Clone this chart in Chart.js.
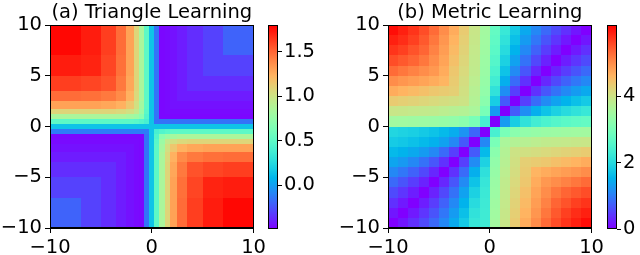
<!DOCTYPE html>
<html><head><meta charset="utf-8">
<script src="https://cdn.jsdelivr.net/npm/chart.js@4.4.1/dist/chart.umd.min.js"></script>
<style>
html,body{margin:0;padding:0;background:#fff;width:640px;height:255px;overflow:hidden;position:relative}
.wrap{position:absolute;top:0}
</style></head><body>
<div class="wrap" style="left:0px"><canvas id="ha" width="269" height="255"></canvas></div>
<div class="wrap" style="left:260px"><canvas id="ca" width="60" height="255"></canvas></div>
<div class="wrap" style="left:320px"><canvas id="hb" width="287" height="255"></canvas></div>
<div class="wrap" style="left:600px"><canvas id="cb" width="40" height="255"></canvas></div>
<script>
// ---------- data ----------
const titleA = '(a) Triangle Learning';
const titleB = '(b) Metric Learning';
const xTicks = [-10, 0, 10];
const yTicks = [-10, -5, 0, 5, 10];
const cbTicksA = [0, 0.5, 1.0, 1.5];
const cbTicksB = [0, 2, 4];
const rangeA = [-0.49, 1.80];
const rangeB = [0, 6.15];

// panel (a): cell edges (x left->right, y top->bottom) and values (rows top->bottom)
const xEdgesA = [-10,-7,-5,-3.5,-2.5,-1.75,-1.25,-0.75,-0.25,0.25,0.75,1.25,1.75,2.5,3.5,5,7,10];
const yEdgesA = [10,7,5,3.5,2.5,1.75,1.25,0.75,0.25,-0.25,-0.75,-1.25,-1.75,-2.5,-3.5,-5,-7,-10];
const valuesA = [
 [1.78,1.72,1.62,1.48,1.30,1.08,0.85,0.50,0.15,-0.15,-0.47,-0.46,-0.44,-0.41,-0.36,-0.30,-0.20],
 [1.72,1.70,1.60,1.47,1.30,1.08,0.85,0.50,0.15,-0.15,-0.47,-0.46,-0.44,-0.41,-0.36,-0.30,-0.30],
 [1.62,1.60,1.56,1.44,1.28,1.08,0.85,0.50,0.15,-0.15,-0.47,-0.46,-0.44,-0.41,-0.36,-0.36,-0.36],
 [1.48,1.47,1.44,1.38,1.24,1.06,0.85,0.50,0.15,-0.15,-0.47,-0.46,-0.44,-0.41,-0.41,-0.41,-0.41],
 [1.30,1.30,1.28,1.24,1.15,1.02,0.82,0.50,0.15,-0.15,-0.47,-0.46,-0.44,-0.44,-0.44,-0.44,-0.44],
 [1.08,1.08,1.08,1.06,1.02,0.95,0.78,0.48,0.15,-0.15,-0.47,-0.46,-0.46,-0.46,-0.46,-0.46,-0.46],
 [0.85,0.85,0.85,0.85,0.82,0.78,0.70,0.45,0.15,-0.15,-0.47,-0.47,-0.47,-0.47,-0.47,-0.47,-0.47],
 [0.50,0.50,0.50,0.50,0.50,0.48,0.45,0.40,0.15,-0.15,-0.15,-0.15,-0.15,-0.15,-0.15,-0.15,-0.15],
 [0.15,0.15,0.15,0.15,0.15,0.15,0.15,0.15,0.15,0.15,0.15,0.15,0.15,0.15,0.15,0.15,0.15],
 [-0.12,-0.12,-0.12,-0.12,-0.12,-0.12,-0.12,-0.12,0.15,0.40,0.45,0.48,0.50,0.50,0.50,0.50,0.50],
 [-0.47,-0.47,-0.47,-0.47,-0.47,-0.47,-0.47,-0.15,0.15,0.45,0.70,0.78,0.82,0.85,0.85,0.85,0.85],
 [-0.46,-0.46,-0.46,-0.46,-0.46,-0.46,-0.47,-0.15,0.15,0.48,0.78,0.95,1.02,1.06,1.08,1.08,1.08],
 [-0.44,-0.44,-0.44,-0.44,-0.44,-0.46,-0.47,-0.15,0.15,0.50,0.82,1.02,1.15,1.24,1.28,1.30,1.30],
 [-0.41,-0.41,-0.41,-0.41,-0.44,-0.46,-0.47,-0.15,0.15,0.50,0.85,1.06,1.24,1.38,1.44,1.47,1.48],
 [-0.36,-0.36,-0.36,-0.41,-0.44,-0.46,-0.47,-0.15,0.15,0.50,0.85,1.08,1.28,1.44,1.56,1.60,1.62],
 [-0.30,-0.30,-0.36,-0.41,-0.44,-0.46,-0.47,-0.15,0.15,0.50,0.85,1.08,1.30,1.47,1.60,1.70,1.72],
 [-0.20,-0.30,-0.36,-0.41,-0.44,-0.46,-0.47,-0.15,0.15,0.50,0.85,1.08,1.30,1.48,1.62,1.72,1.78]
];

// panel (b): unit cells
const xEdgesB = [-10,-9,-8,-7,-6,-5,-4,-3,-2,-1,0,1,2,3,4,5,6,7,8,9,10];
const yEdgesB = [10,9,8,7,6,5,4,3,2,1,0,-1,-2,-3,-4,-5,-6,-7,-8,-9,-10];
const valuesB = [
 [6.05,5.9,5.75,5.55,5.3,5.0,4.7,4.35,3.95,3.5, 2.74,2.23,1.79,1.42,1.10,0.83,0.58,0.37,0.17,0],
 [5.9,5.8,5.65,5.45,5.2,4.92,4.62,4.3,3.93,3.48, 2.69,2.13,1.67,1.28,0.95,0.66,0.41,0.19,0,0.17],
 [5.75,5.65,5.5,5.35,5.1,4.85,4.55,4.25,3.9,3.45, 2.64,2.02,1.52,1.11,0.77,0.47,0.22,0,0.19,0.37],
 [5.55,5.45,5.35,5.2,5.0,4.78,4.48,4.2,3.88,3.42, 2.56,1.88,1.35,0.91,0.56,0.26,0,0.22,0.41,0.58],
 [5.3,5.2,5.1,5.0,4.9,4.7,4.4,4.15,3.85,3.4, 2.46,1.71,1.13,0.67,0.30,0,0.26,0.47,0.66,0.83],
 [5.0,4.92,4.85,4.78,4.7,4.6,4.35,4.1,3.8,3.35, 2.33,1.48,0.85,0.38,0,0.30,0.56,0.77,0.95,1.10],
 [4.7,4.62,4.55,4.48,4.4,4.35,4.3,4.05,3.75,3.3, 2.13,1.16,0.49,0,0.38,0.67,0.91,1.11,1.28,1.42],
 [4.35,4.3,4.25,4.2,4.15,4.1,4.05,4.0,3.7,3.2, 1.83,0.71,0,0.49,0.85,1.13,1.35,1.52,1.67,1.79],
 [3.95,3.93,3.9,3.88,3.85,3.8,3.75,3.7,3.6,3.0, 1.28,0,0.71,1.16,1.48,1.71,1.88,2.02,2.13,2.23],
 [3.5,3.48,3.45,3.42,3.4,3.35,3.3,3.2,3.0,2.4, 0,1.28,1.83,2.13,2.33,2.46,2.56,2.64,2.69,2.74],
 [1.95,1.9,1.85,1.78,1.7,1.6,1.45,1.2,0.8,0, 2.4,3.0,3.2,3.3,3.35,3.4,3.42,3.45,3.48,3.5],
 [1.8,1.75,1.68,1.6,1.5,1.35,1.1,0.7,0,1.1, 3.0,3.6,3.7,3.75,3.8,3.85,3.88,3.9,3.93,3.95],
 [1.6,1.52,1.42,1.28,1.1,0.84,0.49,0,0.71,1.6, 3.2,3.7,4.0,4.05,4.1,4.15,4.2,4.25,4.3,4.35],
 [1.38,1.26,1.1,0.9,0.67,0.38,0,0.49,1.14,1.9, 3.3,3.75,4.05,4.3,4.35,4.4,4.48,4.55,4.62,4.7],
 [1.10,0.95,0.77,0.56,0.30,0,0.38,0.85,1.48,2.1, 3.35,3.8,4.1,4.35,4.6,4.7,4.78,4.85,4.92,5.0],
 [0.83,0.66,0.47,0.26,0,0.30,0.67,1.13,1.71,2.2, 3.4,3.85,4.15,4.4,4.7,4.9,5.0,5.1,5.2,5.3],
 [0.58,0.41,0.22,0,0.26,0.56,0.91,1.35,1.88,2.25, 3.42,3.88,4.2,4.48,4.78,5.0,5.2,5.35,5.45,5.55],
 [0.37,0.19,0,0.22,0.47,0.77,1.11,1.52,2.02,2.28, 3.45,3.9,4.25,4.55,4.85,5.1,5.35,5.5,5.65,5.75],
 [0.17,0,0.19,0.41,0.66,0.95,1.28,1.67,2.13,2.3, 3.48,3.93,4.3,4.62,4.92,5.2,5.45,5.65,5.8,5.9],
 [0,0.17,0.37,0.58,0.83,1.10,1.42,1.79,2.2,2.3, 3.5,3.95,4.35,4.7,5.0,5.3,5.55,5.75,5.9,6.05]
];

// ---------- rendering ----------
Chart.defaults.font.family = 'DejaVu Sans';
Chart.defaults.color = '#000';
const FS = 19.5;

function rainbow(t){
  t = Math.max(0, Math.min(1, t));
  const r = Math.min(1, Math.abs(2*t - 0.5)), g = Math.sin(Math.PI*t), b = Math.cos(Math.PI*t/2);
  return 'rgb(' + Math.round(r*255) + ',' + Math.round(g*255) + ',' + Math.round(b*255) + ')';
}
function fmt(v){ return v < 0 ? '\u2212' + Math.abs(v) : String(v); }

function cells(xe, ye, vals){
  const out = [];
  for (let r = 0; r < vals.length; r++) for (let c = 0; c < vals[r].length; c++) {
    out.push({x:(xe[c]+xe[c+1])/2, y:(ye[r]+ye[r+1])/2, x0:xe[c], x1:xe[c+1], y0:ye[r], y1:ye[r+1], v:vals[r][c]});
  }
  return out;
}

function frame(chart){
  const a = chart.chartArea, ctx = chart.ctx;
  ctx.save(); ctx.strokeStyle = '#000'; ctx.lineWidth = 1;
  ctx.strokeRect(Math.round(a.left) + 0.5, Math.round(a.top) + 0.5, Math.round(a.right - a.left) - 1, Math.round(a.bottom - a.top) - 1);
  ctx.restore();
}

const heatPlugin = {
  id: 'heat',
  beforeDatasetsDraw(chart){
    const o = chart.options.plugins.heat;
    const xs = chart.scales.x, ys = chart.scales.y, ctx = chart.ctx, a = chart.chartArea;
    ctx.save();
    ctx.beginPath(); ctx.rect(a.left, a.top, a.right - a.left, a.bottom - a.top); ctx.clip();
    chart.data.datasets[0].data.forEach(c => {
      const X0 = Math.round(xs.getPixelForValue(c.x0)), X1 = Math.round(xs.getPixelForValue(c.x1));
      const Y0 = Math.round(ys.getPixelForValue(c.y0)), Y1 = Math.round(ys.getPixelForValue(c.y1));
      ctx.fillStyle = rainbow((c.v - o.vmin) / (o.vmax - o.vmin));
      ctx.fillRect(Math.min(X0,X1), Math.min(Y0,Y1), Math.abs(X1-X0), Math.abs(Y1-Y0));
    });
    ctx.restore();
  },
  afterDraw(chart){
    frame(chart);
    const o = chart.options.plugins.heat, a = chart.chartArea, ctx = chart.ctx;
    ctx.save();
    ctx.fillStyle = '#000';
    ctx.font = FS + 'px "DejaVu Sans"';
    ctx.textAlign = 'center'; ctx.textBaseline = 'alphabetic';
    ctx.fillText(o.title, (a.left + a.right) / 2, 18);
    ctx.restore();
  }
};

const cbPlugin = {
  id: 'cbar',
  beforeDatasetsDraw(chart){
    const o = chart.options.plugins.cbar;
    const ys = chart.scales.y, ctx = chart.ctx, a = chart.chartArea;
    ctx.save();
    for (let p = Math.round(a.top); p < Math.round(a.bottom); p++) {
      const v = ys.getValueForPixel(p + 0.5);
      ctx.fillStyle = rainbow((v - o.vmin) / (o.vmax - o.vmin));
      ctx.fillRect(Math.round(a.left), p, Math.round(a.right - a.left), 1);
    }
    ctx.restore();
  },
  afterDraw(chart){ frame(chart); }
};

function axisCommon(ticksArr){
  return {
    type: 'linear', min: -10, max: 10,
    afterBuildTicks: s => { s.ticks = ticksArr.map(v => ({value: v})); },
    grid: {drawOnChartArea: false, tickLength: 5, color: '#000', tickWidth: 1},
    border: {display: true, color: '#000', width: 1},
    ticks: {font: {size: FS}, padding: 3, maxRotation: 0, autoSkip: false, callback: v => fmt(v)}
  };
}

function heatChart(id, title, xe, ye, vals, range, yAxisW){
  const xAx = axisCommon(xTicks); xAx.afterFit = s => { s.height = 27; };
  const yAx = axisCommon(yTicks); yAx.afterFit = s => { s.width = yAxisW; };
  return new Chart(document.getElementById(id), {
    type: 'scatter',
    data: {datasets: [{data: cells(xe, ye, vals), pointRadius: 0, pointHoverRadius: 0}]},
    options: {
      responsive: false, animation: false, events: [],
      layout: {padding: {left: 0, right: 14, top: 25, bottom: 0}},
      plugins: {
        legend: {display: false}, tooltip: {enabled: false}, title: {display: false},
        heat: {vmin: range[0], vmax: range[1], title: title}
      },
      scales: {x: xAx, y: yAx}
    },
    plugins: [heatPlugin]
  });
}

function cbChart(id, range, ticksArr, dec, padLeft, axW){
  return new Chart(document.getElementById(id), {
    type: 'scatter',
    data: {datasets: [{data: [], pointRadius: 0}]},
    options: {
      responsive: false, animation: false, events: [],
      layout: {padding: {left: padLeft, right: 0, top: 25, bottom: 26}},
      plugins: {legend: {display: false}, tooltip: {enabled: false}, cbar: {vmin: range[0], vmax: range[1]}},
      scales: {
        x: {display: false, min: 0, max: 1},
        y: {
          type: 'linear', position: 'right', min: range[0], max: range[1],
          afterBuildTicks: s => { s.ticks = ticksArr.map(v => ({value: v})); },
          afterFit: s => { s.width = axW; },
          grid: {drawOnChartArea: false, tickLength: 4, color: '#000'},
          border: {display: false},
          ticks: {font: {size: FS}, padding: 2, callback: v => dec ? v.toFixed(1) : fmt(v)}
        }
      }
    },
    plugins: [cbPlugin]
  });
}

heatChart('ha', titleA, xEdgesA, yEdgesA, valuesA, rangeA, 50);
cbChart('ca', rangeA, cbTicksA, true, 8, 42);
heatChart('hb', titleB, xEdgesB, yEdgesB, valuesB, rangeB, 68);
cbChart('cb', rangeB, cbTicksB, false, 7, 23);
</script>
</body></html>
